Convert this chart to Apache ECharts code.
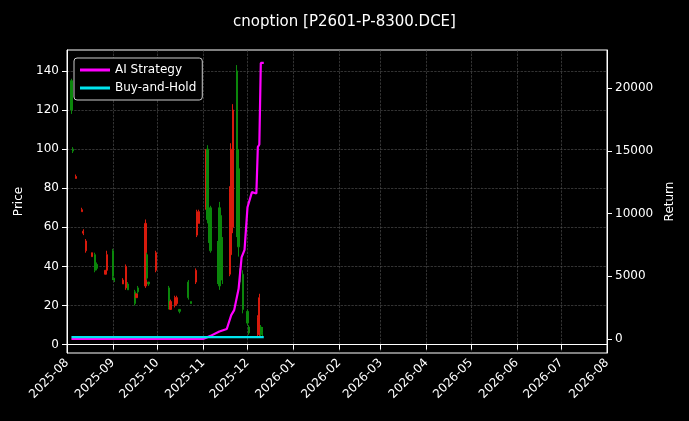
<!DOCTYPE html>
<html>
<head>
<meta charset="utf-8">
<script src="https://cdn.jsdelivr.net/npm/echarts@6/dist/echarts.min.js"></script>
<style>html,body{margin:0;background:#000;}</style>
</head>
<body>
<div id="chart" style="width:689px;height:421px;"></div>
<script>
// candles: date, open, close, low, high
const candleDates = ['2025-08-04','2025-08-05','2025-08-07','2025-08-11','2025-08-12','2025-08-14','2025-08-18','2025-08-20','2025-08-21','2025-08-27','2025-08-28','2025-09-01','2025-09-02','2025-09-08','2025-09-10','2025-09-11','2025-09-16','2025-09-17','2025-09-18','2025-09-23','2025-09-24','2025-09-25','2025-09-30','2025-10-09','2025-10-10','2025-10-13','2025-10-14','2025-10-16','2025-10-22','2025-10-24','2025-10-27','2025-10-28','2025-10-29','2025-11-03','2025-11-04','2025-11-05','2025-11-06','2025-11-11','2025-11-12','2025-11-13','2025-11-14','2025-11-19','2025-11-20','2025-11-21','2025-11-24','2025-11-25','2025-11-26','2025-11-28','2025-12-01','2025-12-02','2025-12-08','2025-12-09','2025-12-10','2025-12-11'];
const candleOHLC = [[135,120,118,136],[100,99,98,101],[85,86,85,87],[68,69,68,70],[57,58,56,59],[48,53,47,54],[45,47,45,47],[46,38,37,47],[41,39,38,42],[36,38,36,38],[38,46,37,48],[48,35,33,49],[34,33,32,34],[31,33,31,34],[29,40,28,41],[31,28,28,32],[27,21,20,28],[24,26,24,26],[29,27,26,30],[30,62,29,64],[46,34,33,47],[32,31,30,32],[38,47,37,48],[29,19,18,30],[18,22,18,23],[20,24,19,25],[21,24,20,25],[18,17,16,18],[32,24,23,33],[22,21,21,22],[32,38,31,39],[56,68,55,69],[62,68,62,69],[70,98,69,100],[100,64,62,102],[68,54,52,69],[70,48,47,71],[52,32,31,53],[70,30,28,73],[66,40,38,68],[54,33,31,55],[36,78,35,81],[46,100,45,103],[60,120,57,123],[140,60,55,143],[90,50,45,100],[38,32,31,39],[36,18,16,38],[17,11,10,18],[9,6,5,10],[5,14,4,15],[6,24,4,26],[9,5,4,10],[8,6,4,9]];

const strategyDates = ['2025-08-04','2025-11-01','2025-11-06','2025-11-12','2025-11-17','2025-11-20','2025-11-22','2025-11-25','2025-11-27','2025-11-29','2025-12-01','2025-12-04','2025-12-07','2025-12-08','2025-12-09','2025-12-10','2025-12-11','2025-12-12'];
const strategyValues = [0,0,250,600,800,1900,2300,4000,6500,7100,10500,11700,11600,15300,15500,22000,22000,22000];

const holdDates = ['2025-08-04','2025-12-12'];
const holdValues = [150,150];

const priceTicks = [0, 20, 40, 60, 80, 100, 120, 140];
const returnTicks = [0, 5000, 10000, 15000, 20000];

const chart = echarts.init(document.getElementById('chart'));
const txt = '#ffffff';
const gridLine = { show: true, lineStyle: { color: '#555', type: 'dashed', width: 0.6 } };

chart.setOption({
  backgroundColor: '#000',
  animation: false,
  title: { text: 'cnoption [P2601-P-8300.DCE]', left: 'center', top: 10, textStyle: { color: txt, fontSize: 15, fontWeight: 'normal', fontFamily: 'DejaVu Sans' } },
  legend: {
    left: 74, top: 58, orient: 'vertical', itemGap: 6, itemWidth: 30, itemHeight: 3,
    backgroundColor: '#000', borderColor: '#ccc', borderWidth: 1, borderRadius: 3, padding: [6, 6],
    textStyle: { color: txt, fontSize: 12, fontFamily: 'DejaVu Sans' },
    data: [{ name: 'AI Strategy', icon: 'rect' }, { name: 'Buy-and-Hold', icon: 'rect' }]
  },
  grid: { left: 67, right: 82, top: 50, bottom: 68, show: true, borderColor: '#fff', borderWidth: 1 },
  xAxis: {
    type: 'time', min: '2025-08-01', max: '2026-08-01', splitNumber: 12,
    axisLine: { lineStyle: { color: txt } }, axisTick: { lineStyle: { color: txt } },
    axisLabel: { color: txt, rotate: 45, fontSize: 12, fontFamily: 'DejaVu Sans',
      formatter: v => { const d = new Date(v); return d.getFullYear() + '-' + String(d.getMonth() + 1).padStart(2, '0'); } },
    splitLine: gridLine
  },
  yAxis: [
    { type: 'value', min: -4.3, max: 150.7, name: 'Price', nameLocation: 'middle', nameGap: 40,
      nameTextStyle: { color: txt, fontSize: 12, fontFamily: 'DejaVu Sans' },
      axisLine: { show: true, lineStyle: { color: txt } },
      axisTick: { show: true, customValues: priceTicks },
      axisLabel: { color: txt, fontSize: 12, fontFamily: 'DejaVu Sans', customValues: priceTicks },
      splitLine: gridLine },
    { type: 'value', min: -1115, max: 23030, name: 'Return', nameLocation: 'middle', nameGap: 50,
      nameTextStyle: { color: txt, fontSize: 12, fontFamily: 'DejaVu Sans' },
      axisLine: { show: true, lineStyle: { color: txt } },
      axisTick: { show: true, customValues: returnTicks },
      axisLabel: { color: txt, fontSize: 12, fontFamily: 'DejaVu Sans', customValues: returnTicks, formatter: v => String(v) },
      splitLine: { show: false } }
  ],
  series: [
    { type: 'candlestick', name: 'Price', yAxisIndex: 0, barMaxWidth: 1.8,
      data: candleDates.map((d, i) => [d, ...candleOHLC[i]]),
      itemStyle: { color: '#d81a0c', color0: '#0b870b', borderColor: '#d81a0c', borderColor0: '#0b870b', borderWidth: 1 } },
    { type: 'line', name: 'AI Strategy', yAxisIndex: 1, symbol: 'none', lineStyle: { color: '#ff00ff', width: 2.2 }, itemStyle: { color: '#ff00ff' },
      data: strategyDates.map((d, i) => [d, strategyValues[i]]) },
    { type: 'line', name: 'Buy-and-Hold', yAxisIndex: 1, symbol: 'none', lineStyle: { color: '#00e5ee', width: 2.2 }, itemStyle: { color: '#00e5ee' },
      data: holdDates.map((d, i) => [d, holdValues[i]]) }
  ]
});
</script>
</body>
</html>
